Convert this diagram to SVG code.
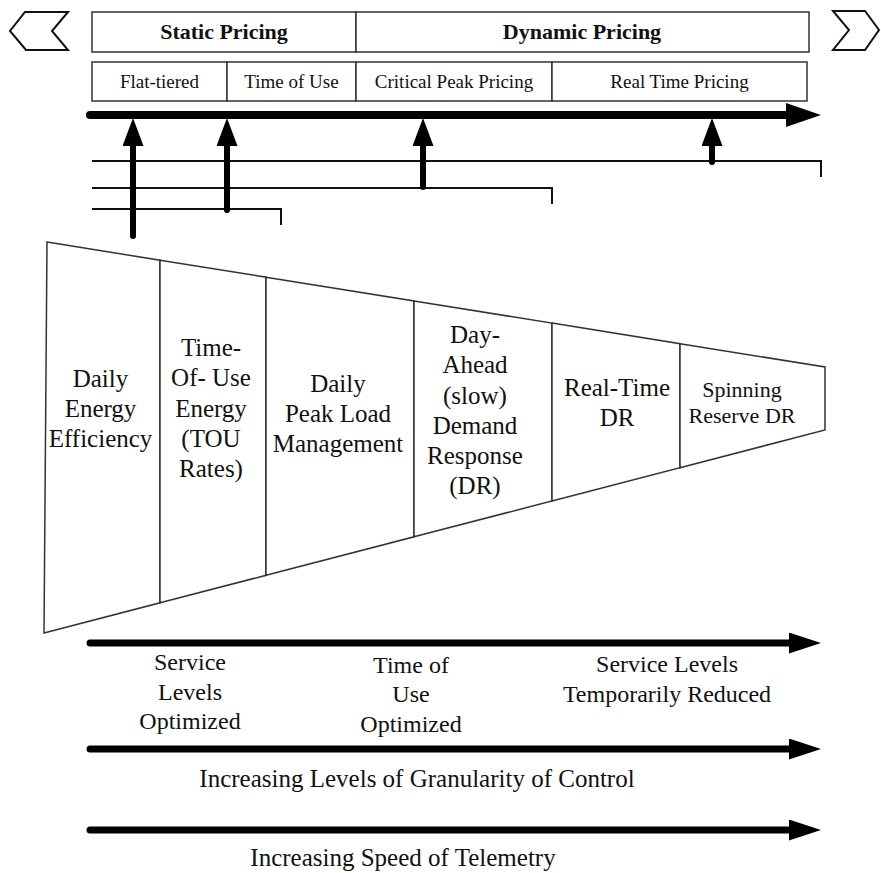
<svg xmlns="http://www.w3.org/2000/svg" width="881" height="873" viewBox="0 0 881 873">
<style>
  .bg { fill: #ffffff; }
  .box { fill: #ffffff; stroke: #333333; stroke-width: 1.5; }
  .seg { fill: #ffffff; stroke: #333333; stroke-width: 1.5; stroke-linejoin: miter; }
  .chev { fill: #ffffff; stroke: #111111; stroke-width: 2; stroke-linejoin: miter; }
  .thin { fill: none; stroke: #111111; stroke-width: 2; }
  .bar { fill: none; stroke: #000000; stroke-width: 8; stroke-linecap: round; }
  .bar2 { fill: none; stroke: #000000; stroke-width: 7; stroke-linecap: round; }
  .up { fill: none; stroke: #000000; stroke-width: 6; stroke-linecap: round; }
  text { font-family: "Liberation Serif", "Times New Roman", serif; fill: #111111; text-anchor: middle; }
  .hdr { font-size: 22px; font-weight: bold; }
  .sub { font-size: 19px; }
  .big { font-size: 25px; }
  .mid { font-size: 22px; }
  .lbl { font-size: 24px; }
</style>
<defs>
  <marker id="headTop" markerUnits="userSpaceOnUse" markerWidth="36" markerHeight="26" refX="0" refY="12" orient="auto">
    <path d="M0,0 L35,12 L0,24 Z" fill="#000000"/>
  </marker>
  <marker id="headBot" markerUnits="userSpaceOnUse" markerWidth="34" markerHeight="22" refX="0" refY="10.5" orient="auto">
    <path d="M0,0 L32,10.5 L0,21 Z" fill="#000000"/>
  </marker>
  <marker id="headUp" markerUnits="userSpaceOnUse" markerWidth="30" markerHeight="22" refX="0" refY="10.5" orient="auto">
    <path d="M0,0 L28,10.5 L0,21 Z" fill="#000000"/>
  </marker>
</defs>
<rect class="bg" x="0" y="0" width="881" height="873"/>

<g id="chevron-left">
  <polygon class="chev" points="25,12 68,12 52,31 68,50 26,50 10,31"/>
</g>
<g id="chevron-right">
  <polygon class="chev" points="833,11 865,11 879,30 865,50 833,50 849,30"/>
</g>

<g id="static-pricing">
  <rect class="box" x="92" y="12" width="264" height="40"/>
  <text class="hdr" x="224" y="39">Static Pricing</text>
</g>
<g id="dynamic-pricing">
  <rect class="box" x="356" y="12" width="453" height="40"/>
  <text class="hdr" x="582" y="39">Dynamic Pricing</text>
</g>
<g id="flat-tiered">
  <rect class="box" x="92" y="62" width="135" height="39"/>
  <text class="sub" x="159.5" y="88">Flat-tiered</text>
</g>
<g id="time-of-use">
  <rect class="box" x="227" y="62" width="129" height="39"/>
  <text class="sub" x="291.5" y="88">Time of Use</text>
</g>
<g id="critical-peak-pricing">
  <rect class="box" x="356" y="62" width="196" height="39"/>
  <text class="sub" x="454" y="88">Critical Peak Pricing</text>
</g>
<g id="real-time-pricing">
  <rect class="box" x="552" y="62" width="255" height="39"/>
  <text class="sub" x="679.5" y="88">Real Time Pricing</text>
</g>

<g id="seg-daily-energy-efficiency">
  <polygon class="seg" points="47,242 160,260.2 160,602.8 44,633"/>
  <text class="big" x="100.5"><tspan x="100.5" y="387">Daily</tspan><tspan x="100.5" y="417">Energy</tspan><tspan x="100.5" y="447">Efficiency</tspan></text>
</g>
<g id="seg-tou-energy">
  <polygon class="seg" points="160,260.2 266,277.2 266,575.3 160,602.8"/>
  <text class="big"><tspan x="211" y="356">Time-</tspan><tspan x="211" y="386">Of- Use</tspan><tspan x="211" y="417">Energy</tspan><tspan x="211" y="447">(TOU</tspan><tspan x="211" y="477">Rates)</tspan></text>
</g>
<g id="seg-daily-peak-load">
  <polygon class="seg" points="266,277.2 414,301 414,536.8 266,575.3"/>
  <text class="big"><tspan x="338" y="392">Daily</tspan><tspan x="338" y="422">Peak Load</tspan><tspan x="338" y="452">Management</tspan></text>
</g>
<g id="seg-day-ahead-dr">
  <polygon class="seg" points="414,301 552,323.1 552,501 414,536.8"/>
  <text class="big"><tspan x="475" y="343">Day-</tspan><tspan x="475" y="373">Ahead</tspan><tspan x="475" y="404">(slow)</tspan><tspan x="475" y="434">Demand</tspan><tspan x="475" y="464">Response</tspan><tspan x="475" y="494">(DR)</tspan></text>
</g>
<g id="seg-real-time-dr">
  <polygon class="seg" points="552,323.1 680,343.7 680,467.7 552,501"/>
  <text class="big"><tspan x="617" y="396">Real-Time</tspan><tspan x="617" y="426">DR</tspan></text>
</g>
<g id="seg-spinning-reserve-dr">
  <polygon class="seg" points="680,343.7 825,367 825,430 680,467.7"/>
  <text class="mid"><tspan x="742" y="397">Spinning</tspan><tspan x="742" y="423">Reserve DR</tspan></text>
</g>

<g id="connectors">
  <line class="bar" x1="90" y1="115" x2="786" y2="115" marker-end="url(#headTop)"/>
  <polyline class="thin" points="92,161 821,161 821,177"/>
  <polyline class="thin" points="92,188 552,188 552,204"/>
  <polyline class="thin" points="92,209 281,209 281,225"/>
  <line class="up" x1="133" y1="236" x2="133" y2="146" marker-end="url(#headUp)"/>
  <line class="up" x1="227" y1="210" x2="227" y2="146" marker-end="url(#headUp)"/>
  <line class="up" x1="423" y1="187" x2="423" y2="146" marker-end="url(#headUp)"/>
  <line class="up" x1="712" y1="162" x2="712" y2="146" marker-end="url(#headUp)"/>
  <line class="bar2" x1="90" y1="643" x2="789" y2="643" marker-end="url(#headBot)"/>
  <line class="bar2" x1="90" y1="749" x2="789" y2="749" marker-end="url(#headBot)"/>
  <line class="bar2" x1="90" y1="830" x2="789" y2="830" marker-end="url(#headBot)"/>
</g>

<g id="label-service-optimized">
  <text class="lbl"><tspan x="190" y="670">Service</tspan><tspan x="190" y="700">Levels</tspan><tspan x="190" y="729">Optimized</tspan></text>
</g>
<g id="label-time-of-use-optimized">
  <text class="lbl"><tspan x="411" y="673">Time of</tspan><tspan x="411" y="702">Use</tspan><tspan x="411" y="732">Optimized</tspan></text>
</g>
<g id="label-service-reduced">
  <text class="lbl"><tspan x="667" y="672">Service Levels</tspan><tspan x="667" y="702">Temporarily Reduced</tspan></text>
</g>
<g id="label-granularity">
  <text class="big" x="417" y="787">Increasing Levels of Granularity of Control</text>
</g>
<g id="label-telemetry">
  <text class="big" x="403" y="866">Increasing Speed of Telemetry</text>
</g>
</svg>
